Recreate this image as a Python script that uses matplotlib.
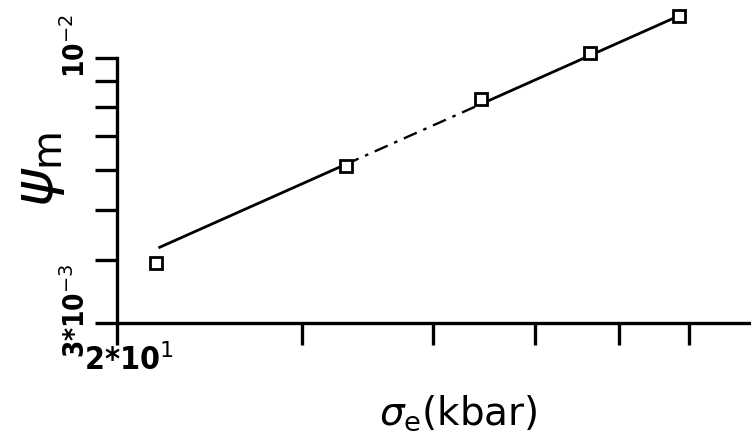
import numpy as np
import matplotlib
matplotlib.use('Agg')
from matplotlib import pyplot as plt
from matplotlib import transforms

plt.rcParams['mathtext.fontset'] = 'dejavusans'

# measured points: stress (kbar) vs psi_m
sigma_e = [21.8, 33.0, 44.4, 56.4, 68.5]
psi_m = [3.94e-3, 6.12e-3, 8.30e-3, 1.022e-2, 1.21e-2]

# end points of the power-law fit line
fit_x = [21.9, 68.5]
fit_y = [4.22e-3, 1.21e-2]

xticks = [20, 30, 40, 50, 60, 70]
xticklabels = ['2*10$^{1}$', '', '', '', '', '']
yticks = [3e-3, 4e-3, 5e-3, 6e-3, 7e-3, 8e-3, 9e-3, 1e-2]
yticklabels = ['3*10$^{-3}$', '', '', '', '', '', '', '10$^{-2}$']

fig = plt.figure(figsize=(7.51, 4.41), dpi=100)
ax = fig.add_axes([117/751, 1 - 323/441, 634/751, 323/441])
ax.set_xscale('log')
ax.set_yscale('log')
ax.set_xlim(20, 80.2)
ax.set_ylim(3e-3, 1.30e-2)

# fit line, broken between the 2nd and 3rd points
b = np.log(fit_y[1]/fit_y[0]) / np.log(fit_x[1]/fit_x[0])
def fit(x):
    return fit_y[0] * (np.asarray(x)/fit_x[0])**b

seg1 = [fit_x[0], sigma_e[1]]
seg2 = [sigma_e[1], sigma_e[2]]
seg3 = [sigma_e[2], fit_x[1]]
ax.plot(seg1, fit(seg1), color='black', lw=2.0, solid_capstyle='butt')
ax.plot(seg2, fit(seg2), color='black', lw=1.7, ls=(0, (6, 3, 1.5, 3)))
ax.plot(seg3, fit(seg3), color='black', lw=2.0, solid_capstyle='butt')

ax.plot(sigma_e, psi_m, ls='none', marker='s', ms=8, mfc='white',
        mec='black', mew=2.0, clip_on=False, zorder=3)

for s in ['top', 'right']:
    ax.spines[s].set_visible(False)
ax.spines['left'].set_bounds(3e-3, 1e-2)
ax.spines['left'].set_linewidth(2.4)
ax.spines['bottom'].set_linewidth(2.4)

tickfont = {'family': 'DejaVu Sans', 'stretch': 'condensed', 'weight': 'bold'}
ax.minorticks_off()
ax.set_xticks(xticks)
ax.set_xticklabels(xticklabels, fontdict=tickfont, fontsize=23)
ax.set_yticks(yticks)
ax.set_yticklabels(yticklabels, fontdict=tickfont, fontsize=20, rotation=90,
                   va='center')
ax.tick_params(axis='x', direction='out', length=16, width=2.4, pad=-1)
ax.tick_params(axis='y', direction='out', length=16, width=2.4, pad=3)

# nudge the labelled ticks' text a little
shift_x = transforms.ScaledTranslation(12/100, 0, fig.dpi_scale_trans)
shift_y = transforms.ScaledTranslation(0, 12/100, fig.dpi_scale_trans)
for lab in ax.get_xticklabels():
    lab.set_transform(lab.get_transform() + shift_x)
for lab in ax.get_yticklabels():
    lab.set_transform(lab.get_transform() + shift_y)

fig.text(0.016, 0.615, r'$\psi_{\mathrm{m}}$', fontsize=41, rotation=90,
         ha='left', va='center')
fig.text(0.505, 0.018, r'$\sigma_{\mathrm{e}}$(kbar)', fontsize=28,
         family='DejaVu Sans', ha='left', va='bottom')

fig.savefig('out.png', dpi=100)
